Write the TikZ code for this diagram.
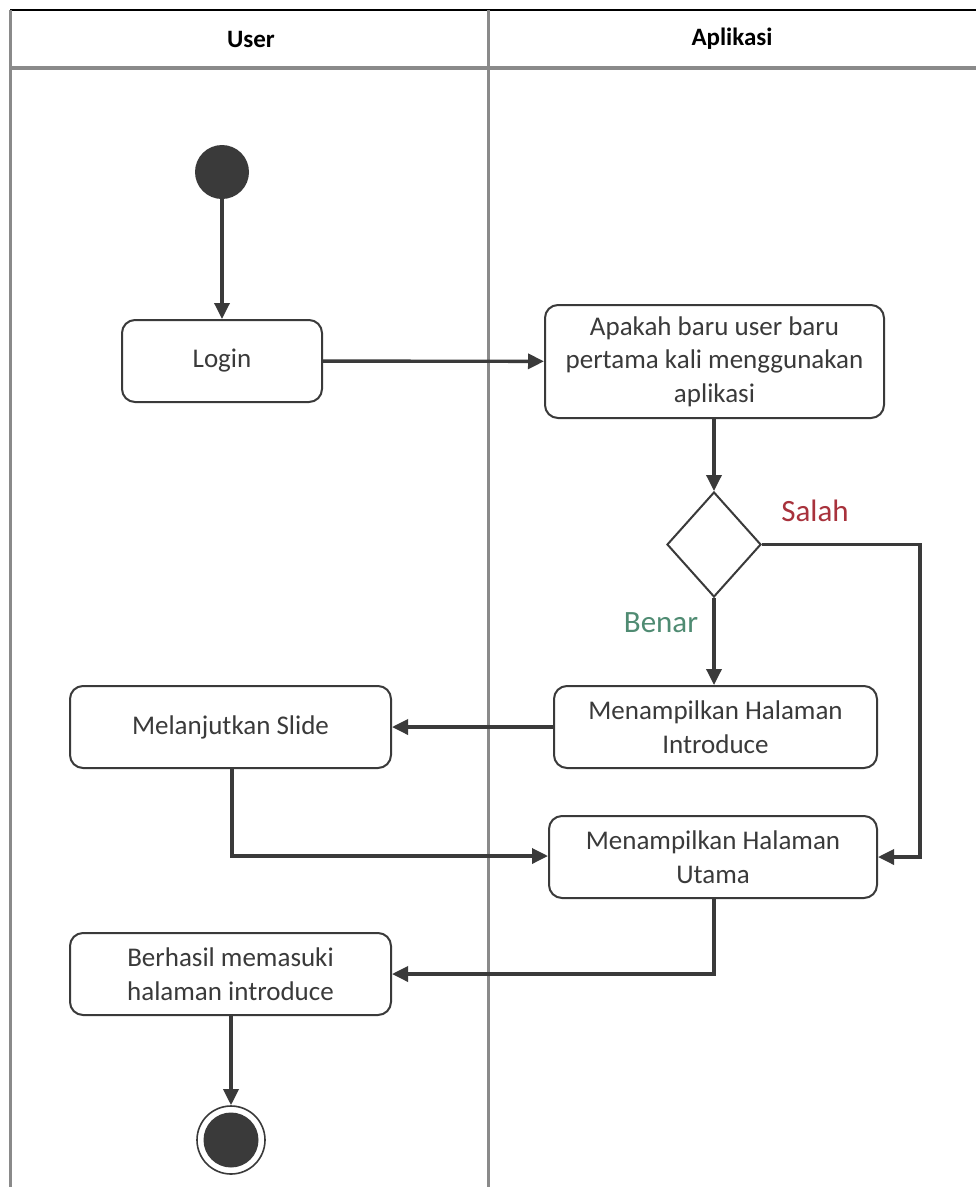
\documentclass[tikz,border=0pt]{standalone}
\usepackage{fontspec}
\setmainfont{Carlito}
\usetikzlibrary{arrows.meta,shapes.geometric}
\definecolor{ink}{HTML}{3A3A3A}
\definecolor{lane}{HTML}{8A8A8A}
\definecolor{salahred}{HTML}{A8323C}
\definecolor{benargreen}{HTML}{4F8B72}
\tikzset{
  act/.style={draw=ink, line width=2pt, rounded corners=13pt, align=center,
    font=\fontsize{27}{33.5}\selectfont, text=ink, inner sep=0pt},
  flow/.style={draw=ink, line width=3.4pt, -{Triangle[length=16pt,width=15pt]}},
  lanehead/.style={font=\fontsize{25}{28}\selectfont\bfseries, text=black},
  guard/.style={font=\fontsize{31}{34}\selectfont},
}
\begin{document}
\begin{tikzpicture}[x=1pt,y=-1pt]
\useasboundingbox (0,0) rectangle (976,1187);
\fill[white] (0,0) rectangle (976,1187);

% swimlane frame
\draw[black, line width=2pt] (10,10) -- (976,10);
\draw[lane, line width=3pt] (10,10) -- (10,1187);
\draw[lane, line width=3pt] (488,10) -- (488,1187);
\draw[lane, line width=4pt] (10,68) -- (976,68);
\node[lanehead] (hUser) at (251,39) {User};
\node[lanehead] (hApp) at (732,39) {Aplikasi};

% start node
\node[circle, fill=ink, minimum size=54pt, inner sep=0pt] (start) at (222,172) {};

% activities
\node[act, minimum width=200pt, minimum height=82pt] (login) at (222,361) {Login};
\node[act, minimum width=339pt, minimum height=113pt] (cek) at (714.5,361.5)
  {Apakah baru user baru\\pertama kali menggunakan\\aplikasi};
\node[diamond, draw=ink, line width=2pt, minimum width=94pt, minimum height=105pt,
  inner sep=0pt, aspect=0.9] (dec) at (714,544.5) {};
\node[act, minimum width=323pt, minimum height=82pt] (intro) at (715.5,727)
  {Menampilkan Halaman\\Introduce};
\node[act, minimum width=321pt, minimum height=82pt] (slide) at (230.5,727)
  {Melanjutkan Slide};
\node[act, minimum width=328pt, minimum height=82pt] (utama) at (713,857)
  {Menampilkan Halaman\\Utama};
\node[act, minimum width=321pt, minimum height=82pt] (hasil) at (230.5,974)
  {Berhasil memasuki\\halaman introduce};

% final node
\node[circle, draw=ink, line width=1.6pt, minimum size=68pt, inner sep=0pt] (final) at (231,1140) {};
\node[circle, fill=ink, minimum size=55pt, inner sep=0pt] (finalcore) at (final.center) {};

% guard labels
\node[guard, text=salahred] (lblSalah) at (815,511) {Salah};
\node[guard, text=benargreen] (lblBenar) at (661,623) {Benar};

% connectors
\coordinate (salahCorner) at (920,544.5);
\coordinate (slideTurn) at (232,856);
\coordinate (utamaTurn) at (714,974);

\draw[flow] (start) -- (login);
\draw[flow] (login) -- (cek);
\draw[flow] (cek.south -| dec.north) -- (dec.north);
\draw[flow] (dec.south) -- (intro.north -| dec.south);
\draw[flow] (intro.west) -- (slide.east);
\draw[flow] (dec.east) -- (salahCorner) |- (utama.east);
\draw[flow] (slide.south -| slideTurn) -- (slideTurn) -- (slideTurn -| utama.west);
\draw[flow] (utama.south -| utamaTurn) -- (utamaTurn) -- (hasil.east);
\draw[flow] (hasil.south -| final.north) -- (final.north);
\end{tikzpicture}
\end{document}
